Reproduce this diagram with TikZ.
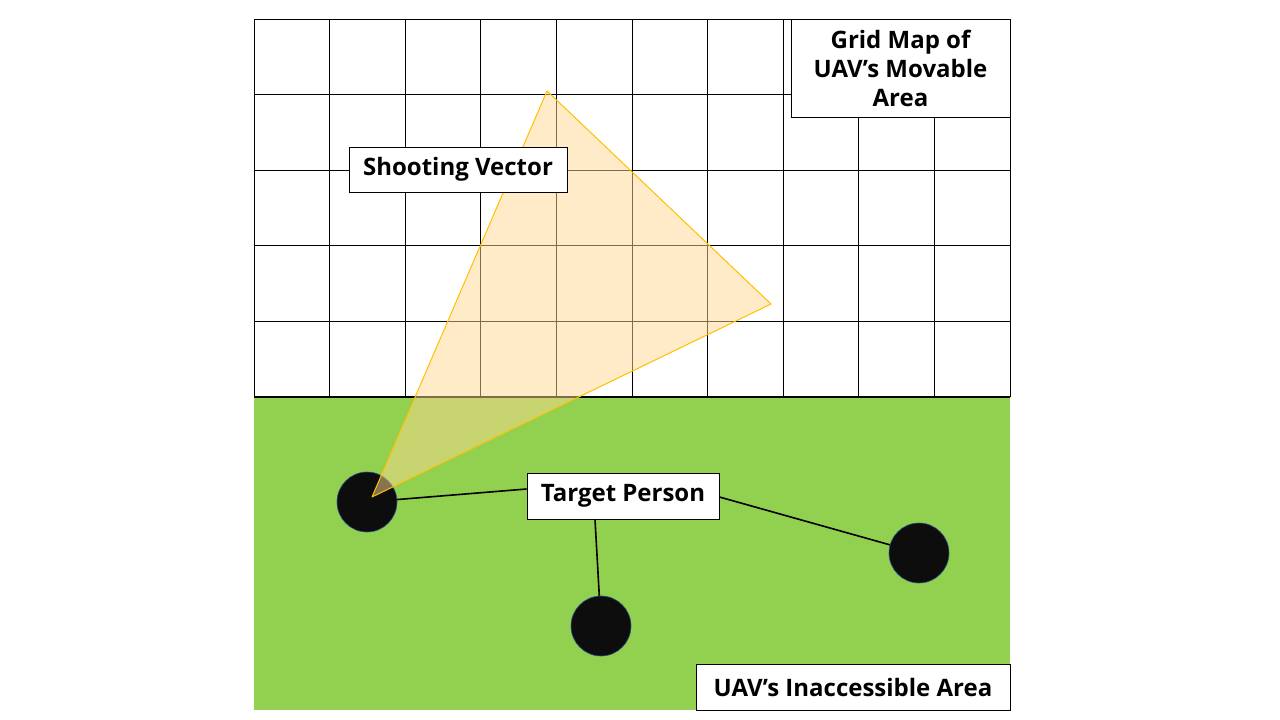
\documentclass[tikz,border=0pt]{standalone}
\usepackage{fontspec}
\setmainfont{Open Sans}
\begin{document}
\begin{tikzpicture}[x=1pt,y=-1pt,
  lbl/.style={draw=black,fill=white,line width=0.9pt,inner sep=0pt,font=\fontsize{24}{29}\selectfont\bfseries,align=center},
  person/.style={circle,fill={rgb,255:red,13;green,13;blue,13},draw={rgb,255:red,47;green,82;blue,143},line width=0.6pt,minimum size=60pt,inner sep=0pt},
  link/.style={draw=black,line width=1.6pt}]
\useasboundingbox (0,0) rectangle (1280,720);
\fill[white] (0,0) rectangle (1280,720);
% grid
\foreach \x in {254,329.6,405.2,480.8,556.4,632,707.6,783.2,858.8,934.4,1010}
  \draw[line width=0.8pt] (\x,19) -- (\x,397);
\foreach \y in {19,94.6,170.2,245.8,321.4,397}
  \draw[line width=0.8pt] (254,\y) -- (1010,\y);
% green area
\fill[fill={rgb,255:red,146;green,208;blue,80}] (254,397) rectangle (1010,710);
\draw[line width=1.4pt] (254,397) -- (1010,397);
% persons
\node[person] (p1) at (367,502) {};
\node[person] (p2) at (601,626) {};
\node[person] (p3) at (919,553) {};
% shooting cone
\coordinate (apex) at (372,497);
\coordinate (ctop) at (547,91);
\coordinate (cright) at (771,304);
\draw[draw={rgb,255:red,255;green,192;blue,0},line width=1pt,fill={rgb,255:red,255;green,217;blue,145},fill opacity=0.5,line join=round] (apex) -- (ctop) -- (cright) -- cycle;
% labels
\node[lbl,minimum width=219pt,minimum height=98pt] (grid) at (900.5,68) {Grid Map of\\UAV’s Movable\\Area};
\node[lbl,minimum width=218pt,minimum height=45pt] (shoot) at (458,169.5) {Shooting Vector};
\node[lbl,minimum width=192pt,minimum height=46pt] (target) at (623,496) {Target Person};
\node[lbl,minimum width=314pt,minimum height=46pt] (inacc) at (853,687) {UAV’s Inaccessible Area};
% links
\draw[link] (p1) -- ([yshift=7pt]target.west);
\draw[link] ([xshift=-28pt]target.south) -- (p2);
\draw[link] ([yshift=-1pt]target.east) -- (p3);
\end{tikzpicture}
\end{document}
